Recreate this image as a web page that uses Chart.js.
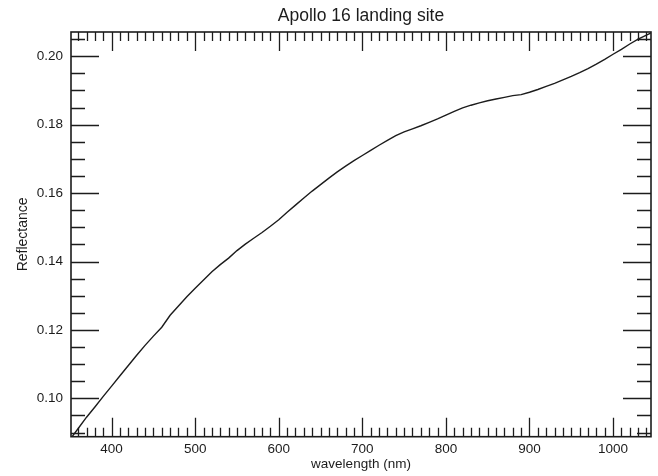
<!DOCTYPE html>
<html>
<head>
<meta charset="utf-8">
<title>Apollo 16 landing site</title>
<script src="https://cdn.jsdelivr.net/npm/chart.js@4"></script>
<style>
  html, body { margin: 0; padding: 0; background: #ffffff; }
  #wrap { width: 658px; height: 476px; }
</style>
</head>
<body>
<div id="wrap"><canvas id="chart" width="658" height="476"></canvas></div>
<script>
// Reflectance spectrum of the Apollo 16 landing site
const wavelengths = [352, 360, 370, 380, 390, 400, 410, 420, 430, 440, 450, 460, 470, 480, 490,
  500, 510, 520, 530, 540, 550, 560, 570, 580, 590, 600, 610, 620, 630, 640, 650, 660, 670, 680, 690,
  700, 710, 720, 730, 740, 750, 760, 770, 780, 790, 800, 810, 820, 830, 840, 850, 860, 870, 880, 890,
  900, 910, 920, 930, 940, 950, 960, 970, 980, 990, 1000, 1010, 1020, 1030, 1045];
const reflectance = [0.0886, 0.0912, 0.0945, 0.0975, 0.1006, 0.1036, 0.1066, 0.1096, 0.1126, 0.1155,
  0.1182, 0.1208, 0.1243, 0.1270, 0.1297, 0.1322, 0.1346, 0.1370, 0.1391, 0.1410, 0.1432, 0.1451,
  0.1468, 0.1485, 0.1503, 0.1522, 0.1544, 0.1565, 0.1586, 0.1606, 0.1625, 0.1644, 0.1662, 0.1679,
  0.1695, 0.1710, 0.1725, 0.1740, 0.1754, 0.1768, 0.1779, 0.1788, 0.1797, 0.1807, 0.1817, 0.1828,
  0.1839, 0.1849, 0.1857, 0.1864, 0.1870, 0.1875, 0.1880, 0.1885, 0.1888, 0.1895, 0.1903, 0.1912,
  0.1921, 0.1931, 0.1941, 0.1952, 0.1964, 0.1977, 0.1991, 0.2006, 0.2020, 0.2036, 0.2050, 0.2068];

const xTickLabels = [400, 500, 600, 700, 800, 900, 1000];
const yTickLabels = [0.10, 0.12, 0.14, 0.16, 0.18, 0.20];
const xMinorStep = 10;
const yMinorStep = 0.005;
const xRange = [351.4, 1045.4];
const yRange = [0.0888, 0.2071];

const INK = '#1c1c1c';
const FONT = '"Liberation Sans", Arial, Helvetica, sans-serif';

// Center the chart title over the plot area rather than the whole canvas
const titleOverPlot = {
  id: 'titleOverPlot',
  afterLayout(chart) {
    const t = chart.titleBlock;
    if (t) {
      t.left = chart.chartArea.left;
      t.right = chart.chartArea.right;
      t.width = t.right - t.left;
    }
  }
};

// Inward tick marks on all four sides plus the plot frame
const frameTicks = {
  id: 'frameTicks',
  afterDatasetsDraw(chart) {
    const { ctx, chartArea: a, scales: { x, y } } = chart;
    ctx.save();
    ctx.strokeStyle = INK;
    ctx.lineWidth = 1.3;
    ctx.beginPath();
    // x ticks (bottom and top)
    const x0 = Math.ceil(xRange[0] / xMinorStep) * xMinorStep;
    for (let v = x0; v <= xRange[1] + 1e-9; v += xMinorStep) {
      const major = xTickLabels.includes(Math.round(v));
      const len = major ? 19 : 9;
      const px = Math.round(x.getPixelForValue(v)) + 0.5;
      ctx.moveTo(px, a.bottom); ctx.lineTo(px, a.bottom - len);
      ctx.moveTo(px, a.top); ctx.lineTo(px, a.top + len);
    }
    // y ticks (left and right)
    const y0 = Math.ceil(yRange[0] / yMinorStep - 1e-6) * yMinorStep;
    for (let v = y0; v <= yRange[1] + 1e-9; v += yMinorStep) {
      const major = yTickLabels.some(t => Math.abs(t - v) < 1e-6);
      const len = major ? 28 : 14;
      const py = Math.round(y.getPixelForValue(v)) + 0.5;
      ctx.moveTo(a.left, py); ctx.lineTo(a.left + len, py);
      ctx.moveTo(a.right, py); ctx.lineTo(a.right - len, py);
    }
    ctx.stroke();
    ctx.lineWidth = 1.6;
    ctx.strokeRect(a.left, a.top, a.right - a.left, a.bottom - a.top);
    ctx.restore();
  }
};

new Chart(document.getElementById('chart'), {
  type: 'line',
  data: {
    datasets: [{
      data: wavelengths.map((w, i) => ({ x: w, y: reflectance[i] })),
      borderColor: INK,
      borderWidth: 1.4,
      pointRadius: 0,
      tension: 0,
      fill: false
    }]
  },
  options: {
    responsive: false,
    animation: false,
    devicePixelRatio: 1,
    layout: { padding: { left: 0, right: 7, top: 0, bottom: 0 } },
    plugins: {
      legend: { display: false },
      tooltip: { enabled: false },
      title: {
        display: true,
        text: 'Apollo 16 landing site',
        color: INK,
        font: { family: FONT, size: 17.5, weight: 'normal' },
        padding: { top: 6, bottom: 5 }
      }
    },
    scales: {
      x: {
        type: 'linear',
        min: xRange[0],
        max: xRange[1],
        grid: { display: false, drawTicks: false },
        border: { display: false },
        afterBuildTicks: s => { s.ticks = xTickLabels.map(v => ({ value: v })); },
        afterFit: s => { s.height = 39.3; },
        ticks: {
          color: INK,
          padding: 4.5,
          maxRotation: 0,
          font: { family: FONT, size: 13.5 },
          callback: v => String(v)
        },
        title: {
          display: true,
          text: 'wavelength (nm)',
          color: INK,
          font: { family: FONT, size: 13.5 },
          padding: { top: 0, bottom: 3.5 }
        }
      },
      y: {
        type: 'linear',
        min: yRange[0],
        max: yRange[1],
        grid: { display: false, drawTicks: false },
        border: { display: false },
        afterBuildTicks: s => { s.ticks = yTickLabels.map(v => ({ value: v })); },
        afterFit: s => { s.width = 71; },
        ticks: {
          color: INK,
          padding: 8,
          font: { family: FONT, size: 13.5 },
          callback: v => Number(v).toFixed(2)
        },
        title: {
          display: true,
          text: 'Reflectance',
          color: INK,
          font: { family: FONT, size: 14 },
          padding: { top: 14.5, bottom: 0 }
        }
      }
    }
  },
  plugins: [titleOverPlot, frameTicks]
});
</script>
</body>
</html>
